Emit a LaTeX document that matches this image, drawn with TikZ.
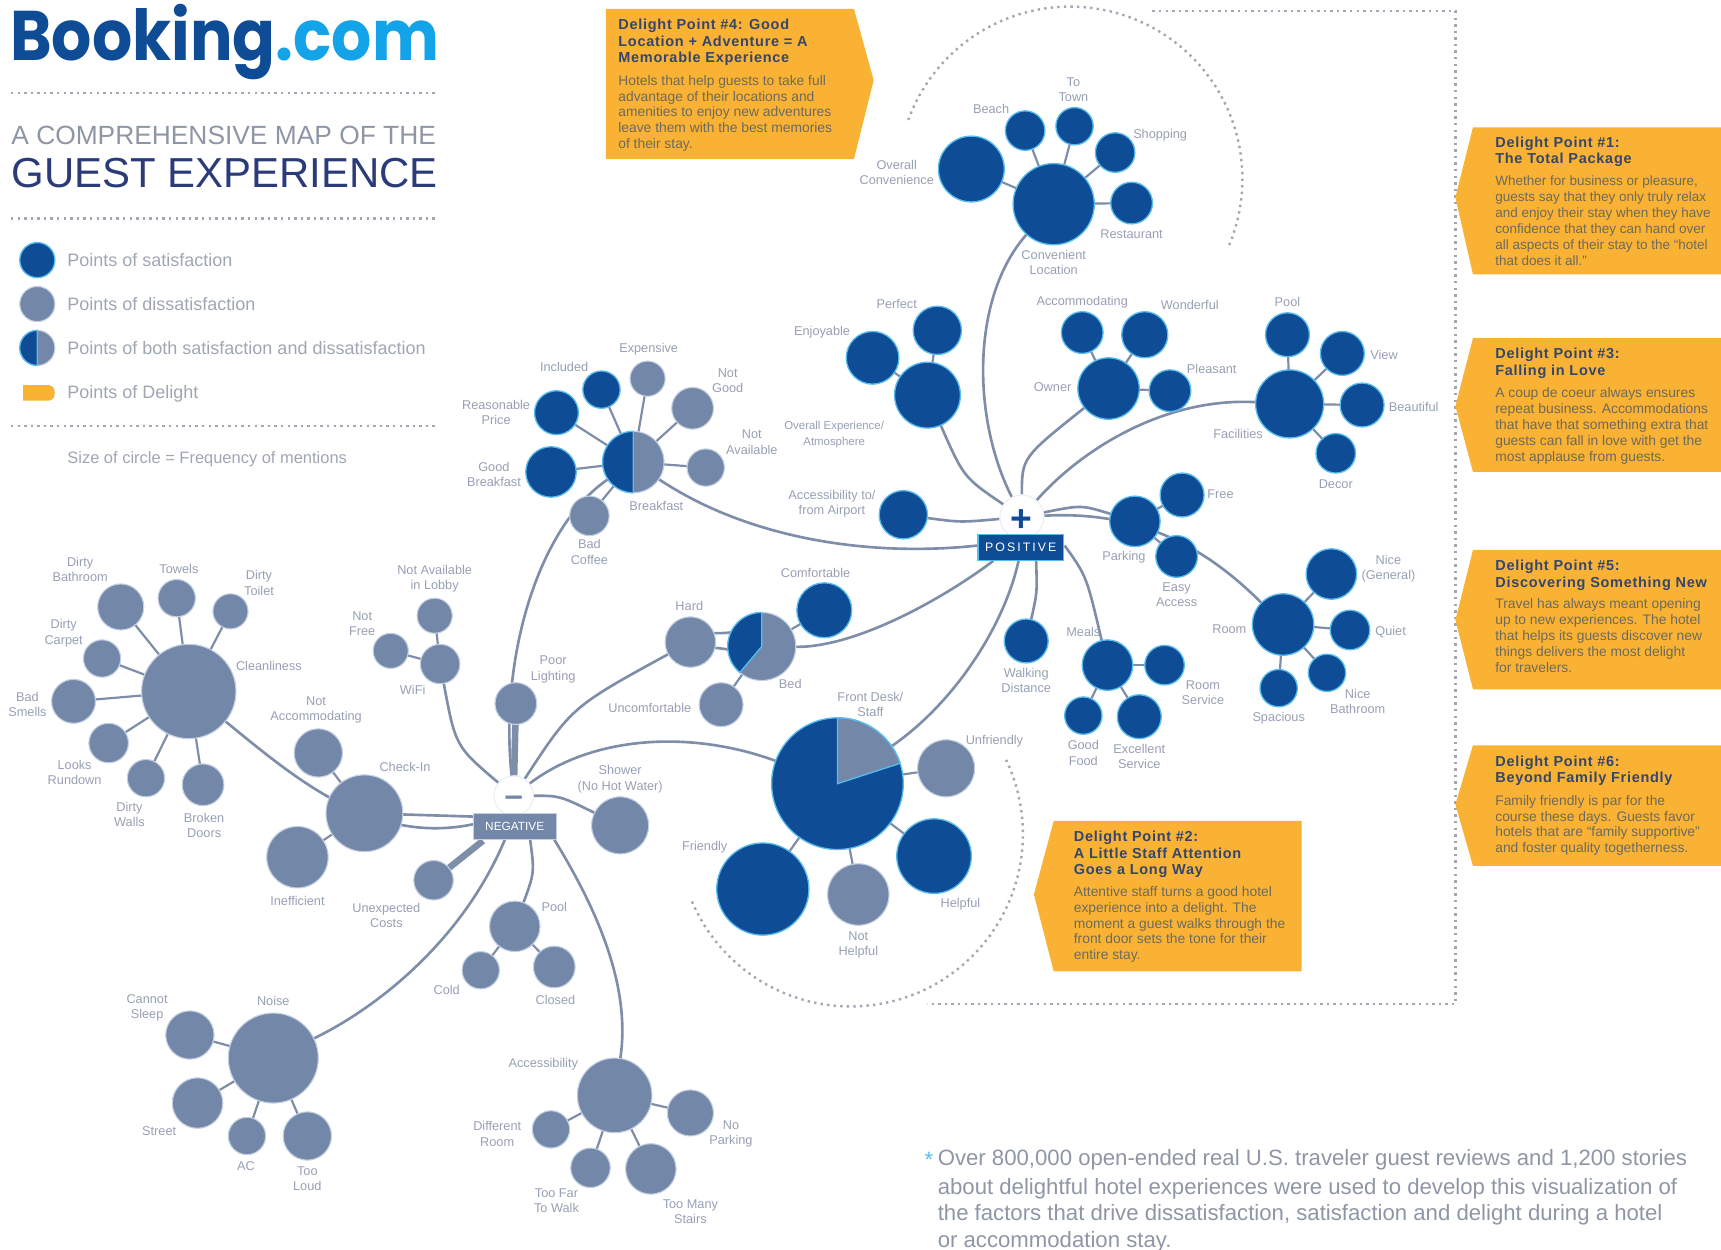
\documentclass[tikz,border=0pt]{standalone}
\usepackage{fontspec}
\usepackage{graphicx}
\setmainfont{Liberation Sans}
\newfontfamily\logofont{Poppins}
\newfontfamily\dtfont[LetterSpace=5]{Liberation Sans}
\usetikzlibrary{backgrounds}
\definecolor{satblue}{HTML}{0E4C96}
\definecolor{halo}{HTML}{58BDEE}
\definecolor{logoc}{HTML}{12A3E8}
\definecolor{disgray}{HTML}{7387A8}
\definecolor{dishalo}{HTML}{C3CFE2}
\definecolor{edgec}{HTML}{7F8EA8}
\definecolor{labc}{HTML}{979FB4}
\definecolor{orangeb}{HTML}{F9B233}
\definecolor{dott}{HTML}{A4A7B2}
\definecolor{dtitle}{HTML}{34466E}
\definecolor{dbody}{HTML}{6D6A5E}
\definecolor{greyt}{HTML}{8E96A6}
\definecolor{navyt}{HTML}{2A3B78}
\tikzset{
 satc/.style={circle,fill=satblue,draw=halo,line width=0.6pt,inner sep=0pt,outer sep=0pt},
 disc/.style={circle,fill=disgray,draw=dishalo,line width=0.5pt,inner sep=0pt,outer sep=0pt},
 lbl/.style={text=labc,align=center,inner sep=0pt,font=\fontsize{5.8}{7}\selectfont},
 edge/.style={draw=edgec,line width=1.2pt},
 thick edge/.style={draw=edgec,line width=3pt},
 leaf/.style={draw=edgec,line width=1pt},
 dots/.style={draw=dott,line width=1.1pt,dash pattern=on 1.1pt off 1.9pt},
 dbox/.style={fill=orangeb,draw=none},
 dtit/.style={anchor=north west,align=left,inner sep=0pt,text=dtitle,font=\dtfont\fontsize{6.6}{7.5}\selectfont\bfseries},
 dbod/.style={anchor=north west,align=left,inner sep=0pt,text=dbody,font=\fontsize{6.3}{7.25}\selectfont},
 leg/.style={anchor=west,inner sep=0pt,text=greyt!85,font=\fontsize{8.2}{10}\selectfont},
 foot/.style={anchor=west,inner sep=0pt,text=greyt,font=\fontsize{10.1}{12}\selectfont},
}
\newcommand\CS[4]{\node[satc,minimum size=#4pt] (#1) at (#2,#3) {};}
\newcommand\CD[4]{\node[disc,minimum size=#4pt] (#1) at (#2,#3) {};}
\newcommand\LB[4]{\node[lbl] (#1) at (#2,#3) {#4};}
\newcommand\WEDGE[7]{\path[fill=#6,draw=#7,line width=0.6pt] (#1,#2) -- plot[domain=#4:#5,samples=40] ({#1+#3*cos(\x)},{#2-#3*sin(\x)}) -- cycle;}
\begin{document}
\begin{tikzpicture}[x=0.5pt,y=-0.5pt]
\useasboundingbox (0,0) rectangle (1568,1138);

% header
\node[anchor=west,inner sep=0pt,font=\logofont\bfseries\fontsize{32}{32}\selectfont] (logo) at (9,38) {\scalebox{0.9}[1]{\textcolor{satblue}{Booking}\textcolor{logoc}{.com}}};
\draw[dots] (10,85) -- (397,85);
\node[anchor=west,inner sep=0pt,text=greyt,font=\fontsize{12}{14}\selectfont] (t1) at (10,123) {A COMPREHENSIVE MAP OF THE};
\node[anchor=west,inner sep=0pt,text=navyt,font=\fontsize{19.1}{22}\selectfont] (t2) at (10,158) {GUEST EXPERIENCE};
\draw[dots] (10,199) -- (397,199);
\CS{lg1}{34}{237}{16}
\CD{lg2}{34}{277}{16}
\CD{lg3}{34}{317}{16}
\WEDGE{34}{317}{16}{90}{270}{satblue}{halo}
\path[fill=orangeb] (21,351) -- (45,351) .. controls (49,352) and (50,355) .. (50,358) .. controls (50,361) and (49,364) .. (45,365) -- (21,365) -- cycle;
\node[leg] (lt1) at (61,237) {Points of satisfaction};
\node[leg] (lt2) at (61,277) {Points of dissatisfaction};
\node[leg] (lt3) at (61,317) {Points of both satisfaction and dissatisfaction};
\node[leg] (lt4) at (61,358.5) {Points of Delight};
\draw[dots] (10,388) -- (397,388);
\node[leg,font=\fontsize{7.5}{10}\selectfont] (lt5) at (61,418) {Size of circle = Frequency of mentions};

% dotted frames
\draw[dots] (1050,10) -- (1326,10) -- (1326,915) -- (845,915);
\draw[dots] plot[domain=160:-23,samples=60] ({975+157*cos(\x)},{163-157*sin(\x)});
\draw[dots] plot[domain=203:386,samples=60] ({775+157*cos(\x)},{760-157*sin(\x)});

% delight boxes
\path[dbox] (552,8) -- (778,8) -- (796,73) -- (778,145) -- (552,145) -- cycle;
\path[dbox] (1326,180) -- (1342,116) -- (1568,116) -- (1568,250) -- (1342,250) -- cycle;
\path[dbox] (1326,370) -- (1342,308) -- (1568,308) -- (1568,430) -- (1342,430) -- cycle;
\path[dbox] (1326,565) -- (1342,501) -- (1568,501) -- (1568,628) -- (1342,628) -- cycle;
\path[dbox] (1326,733) -- (1342,679) -- (1568,679) -- (1568,789) -- (1342,789) -- cycle;
\path[dbox] (942,815) -- (960,748) -- (1186,748) -- (1186,885) -- (960,885) -- cycle;

\node[dtit] (d4t) at (563,17) {Delight Point \#4: Good\\Location + Adventure = A\\Memorable Experience};
\node[dbod] (d4b) at (563,68) {Hotels that help guests to take full\\advantage of their locations and\\amenities to enjoy new adventures\\leave them with the best memories\\of their stay.};
\node[dtit] (d1t) at (1362,124) {Delight Point \#1:\\The Total Package};
\node[dbod,font=\fontsize{6.15}{7.25}\selectfont] (d1b) at (1362,160) {Whether for business or pleasure,\\guests say that they only truly relax\\and enjoy their stay when they have\\confidence that they can hand over\\all aspects of their stay to the ``hotel\\that does it all.''};
\node[dtit] (d3t) at (1362,317) {Delight Point \#3:\\Falling in Love};
\node[dbod] (d3b) at (1362,353) {A coup de coeur always ensures\\repeat business. Accommodations\\that have that something extra that\\guests can fall in love with get the\\most applause from guests.};
\node[dtit] (d5t) at (1362,510) {Delight Point \#5:\\Discovering Something New};
\node[dbod] (d5b) at (1362,545) {Travel has always meant opening\\up to new experiences. The hotel\\that helps its guests discover new\\things delivers the most delight\\for travelers.};
\node[dtit] (d6t) at (1362,688) {Delight Point \#6:\\Beyond Family Friendly};
\node[dbod] (d6b) at (1362,724) {Family friendly is par for the\\course these days. Guests favor\\hotels that are ``family supportive''\\and foster quality togetherness.};
\node[dtit] (d2t) at (978,757) {Delight Point \#2:\\A Little Staff Attention\\Goes a Long Way};
\node[dbod] (d2b) at (978,807) {Attentive staff turns a good hotel\\experience into a delight. The\\moment a guest walks through the\\front door sets the tone for their\\entire stay.};

% footnote
\node[foot,text=halo] (fs) at (842,1057) {*};
\node[foot] (f1) at (854,1057) {Over 800,000 open-ended real U.S. traveler guest reviews and 1,200 stories};
\node[foot] (f2) at (854,1083) {about delightful hotel experiences were used to develop this visualization of};
\node[foot] (f3) at (854,1107) {the factors that drive dissatisfaction, satisfaction and delight during a hotel};
\node[foot] (f4) at (854,1131) {or accommodation stay.};

% hubs
\node[circle,fill=white,draw=dishalo!35,line width=0.5pt,minimum size=20pt,inner sep=0pt] (phub) at (931,471) {};
\node[inner sep=0pt,text=satblue,font=\bfseries\fontsize{17}{17}\selectfont] (pplus) at (931,474) {+};
\node[fill=satblue,draw=halo,line width=0.5pt,minimum width=39pt,minimum height=12pt,inner sep=0pt,text=white,font=\fontsize{5.6}{6}\selectfont] (pbox) at (930,499) {P\,O\,S\,I\,T\,I\,V\,E};
\node[circle,fill=white,draw=dishalo!35,line width=0.5pt,minimum size=18pt,inner sep=0pt] (nhub) at (468,725) {};
\node[inner sep=0pt,text=disgray,font=\bfseries\fontsize{15}{15}\selectfont] (nminus) at (468,730) {–};
\node[fill=disgray,draw=dishalo,line width=0.5pt,minimum width=38pt,minimum height=12pt,inner sep=0pt,text=white,font=\fontsize{5.4}{6}\selectfont] (nbox) at (469,753) {NEGATIVE};

% positive clusters
\CS{conv}{960}{186}{37}\CS{oconv}{885}{154}{30}\CS{beach}{934}{119}{18}\CS{town}{979}{115}{17}\CS{shop}{1016}{139}{18}\CS{rest}{1031}{185}{19}
\LB{lbeach}{903}{99}{Beach}\LB{ltown}{978}{82}{To\\Town}\LB{lshop}{1057}{123}{Shopping}\LB{loconv}{817}{157}{Overall\\Convenience}\LB{lrest}{1031}{213}{Restaurant}\LB{lconv}{960}{239}{Convenient\\Location}
\CS{oexp}{845}{360}{30}\CS{perf}{854}{301}{22}\CS{enj}{795}{326}{24}
\LB{lperf}{817}{277}{Perfect}\LB{lenj}{749}{303}{Enjoyable}
\node[lbl,font=\fontsize{5.2}{7}\selectfont] (loexp) at (760,396) {Overall Experience/\\Atmosphere};
\CS{owner}{1010}{354}{28}\CS{accom}{986}{303}{19}\CS{wond}{1043}{305}{21}\CS{pleas}{1066}{356}{19}
\LB{laccom}{986}{275}{Accommodating}\LB{lwond}{1084}{278}{Wonderful}\LB{lpleas}{1104}{336}{Pleasant}\LB{lowner}{959}{353}{Owner}
\CS{fac}{1175}{368}{31}\CS{ppool}{1173}{305}{20}\CS{view}{1223}{322}{20}\CS{beau}{1241}{369}{20}\CS{decor}{1217}{413}{18}
\LB{lppool}{1173}{275}{Pool}\LB{lview}{1261}{323}{View}\LB{lbeau}{1288}{371}{Beautiful}\LB{ldecor}{1217}{441}{Decor}\LB{lfac}{1128}{395}{Facilities}
\CS{acc}{823}{469}{22}\LB{lacc}{758}{459}{Accessibility to/\\from Airport}
\CS{park}{1034}{475}{23}\CS{free}{1077}{451}{20}\CS{easy}{1072}{507}{19}
\LB{lpark}{1024}{508}{Parking}\LB{lfree}{1112}{450}{Free}\LB{leasy}{1072}{542}{Easy\\Access}
\CS{room}{1169}{569}{28}\CS{nice}{1213}{523}{23}\CS{quiet}{1230}{574}{18}\CS{nbath}{1209}{613}{17}\CS{spac}{1165}{627}{17}
\LB{lroom}{1120}{573}{Room}\LB{lnice}{1265}{518}{Nice\\(General)}\LB{lquiet}{1267}{576}{Quiet}\LB{lnbath}{1237}{639}{Nice\\Bathroom}\LB{lspac}{1165}{654}{Spacious}
\CS{walk}{935}{584}{20}\LB{lwalk}{935}{620}{Walking\\Distance}
\CS{meals}{1009}{606}{23}\CS{rserv}{1061}{606}{18}\CS{exc}{1038}{653}{20}\CS{food}{987}{652}{17}
\LB{lmeals}{987}{576}{Meals}\LB{lrserv}{1096}{631}{Room\\Service}\LB{lexc}{1038}{689}{Excellent\\Service}\LB{lfood}{987}{686}{Good\\Food}

% front desk
\CS{front}{763}{714}{60}
\WEDGE{763}{714}{60}{18}{90}{disgray}{halo}
\CS{friend}{695}{810}{42}\CS{help}{851}{780}{34}\CD{nhelp}{782}{815}{28}\CD{unfr}{862}{700}{26}
\LB{lfront}{793}{642}{Front Desk/\\Staff}\LB{lunfr}{906}{675}{Unfriendly}\LB{lfriend}{642}{772}{Friendly}\LB{lhelp}{875}{824}{Helpful}\LB{lnhelp}{782}{861}{Not\\Helpful}

% bed
\CD{bed}{694}{589}{31}
\WEDGE{694}{589}{31}{90}{230}{satblue}{halo}
\CS{comf}{751}{556}{25}\CD{hard}{629}{585}{23}\CD{unc}{657}{642}{20}
\LB{lcomf}{743}{522}{Comfortable}\LB{lhard}{628}{552}{Hard}\LB{lunc}{592}{645}{Uncomfortable}\LB{lbed}{720}{623}{Bed}

% breakfast
\CD{bkf}{577}{421}{28}
\WEDGE{577}{421}{28}{90}{270}{satblue}{halo}
\CS{reas}{507}{376}{20}\CS{incl}{548}{355}{17}\CD{exp}{590}{345}{16}\CD{ngood}{631}{372}{19}\CD{nav}{643}{426}{17}\CS{gbk}{502}{430}{23}\CD{bcof}{537}{470}{18}
\LB{lincl}{514}{334}{Included}\LB{lexp}{591}{318}{Expensive}\LB{lngood}{663}{347}{Not\\Good}\LB{lnav}{685}{403}{Not\\Available}\LB{lreas}{452}{376}{Reasonable\\Price}\LB{lgbk}{450}{432}{Good\\Breakfast}\LB{lbkf}{598}{461}{Breakfast}\LB{lbcof}{537}{503}{Bad\\Coffee}

% negative clusters
\CD{clean}{172}{630}{43}\CD{dbath}{110}{553}{21}\CD{tow}{161}{545}{17}\CD{dtoil}{210}{557}{16}\CD{dcarp}{93}{600}{17}\CD{bsm}{67}{639}{20}\CD{lrun}{99}{677}{18}\CD{dwal}{133}{709}{17}\CD{bdoor}{185}{715}{19}
\LB{ldbath}{73}{519}{Dirty\\Bathroom}\LB{ltow}{163}{518}{Towels}\LB{ldtoil}{236}{531}{Dirty\\Toilet}\LB{ldcarp}{58}{577}{Dirty\\Carpet}\LB{lbsm}{25}{642}{Bad\\Smells}\LB{llrun}{68}{704}{Looks\\Rundown}\LB{ldwal}{118}{742}{Dirty\\Walls}\LB{lbdoor}{186}{752}{Broken\\Doors}\LB{lclean}{245}{607}{Cleanliness}
\CD{chk}{332}{741}{35}\CD{nacc}{290}{686}{22}\CD{ineff}{271}{781}{28}
\LB{lnacc}{288}{647}{Not\\Accommodating}\LB{lchk}{369}{699}{Check-In}\LB{lineff}{271}{821}{Inefficient}
\CD{unex}{395}{802}{18}\LB{lunex}{352}{834}{Unexpected\\Costs}
\CD{wifi}{401}{605}{18}\CD{nlob}{396}{561}{16}\CD{nfree}{356}{593}{16}
\LB{lnlob}{396}{527}{Not Available\\in Lobby}\LB{lnfree}{330}{568}{Not\\Free}\LB{lwifi}{376}{629}{WiFi}
\CD{plig}{470}{641}{19}\LB{lplig}{504}{610}{Poor\\Lighting}
\CD{show}{565}{752}{26}\LB{lshow}{565}{710}{Shower\\(No Hot Water)}
\CD{npool}{469}{844}{23}\CD{cold}{438}{884}{17}\CD{clos}{505}{881}{19}
\LB{lnpool}{505}{826}{Pool}\LB{lcold}{407}{902}{Cold}\LB{lclos}{506}{911}{Closed}
\CD{noise}{249}{964}{41}\CD{csl}{173}{943}{22}\CD{stre}{180}{1005}{23}\CD{ac}{225}{1035}{17}\CD{tlou}{280}{1035}{22}
\LB{lnoise}{249}{912}{Noise}\LB{lcsl}{134}{918}{Cannot\\Sleep}\LB{lstre}{145}{1031}{Street}\LB{lac}{224}{1062}{AC}\LB{ltlou}{280}{1074}{Too\\Loud}
\CD{nacs}{560}{998}{34}\CD{droom}{502}{1029}{17}\CD{npark}{629}{1014}{21}\CD{tfar}{538}{1064}{18}\CD{tman}{593}{1065}{23}
\LB{lnacs}{495}{970}{Accessibility}\LB{ldroom}{453}{1033}{Different\\Room}\LB{lnpark}{666}{1033}{No\\Parking}\LB{ltfar}{507}{1094}{Too Far\\To Walk}\LB{ltman}{629}{1104}{Too Many\\Stairs}

% connector free ends at the box edges
\coordinate (pw) at (944,511);
\coordinate (pm) at (970,497);
\coordinate (pf) at (928,511);
\coordinate (pb) at (905,511);
\coordinate (pl) at (891,497);
\coordinate (npo) at (483,765);
\coordinate (nac) at (505,765);
\coordinate (nno) at (460,765);
\coordinate (nun) at (440,766);
\coordinate (nc1) at (431,744);
\coordinate (nc2) at (431,751);

\begin{scope}[on background layer]
\foreach \a/\b in {conv/oconv,conv/beach,conv/town,conv/shop,conv/rest,oexp/perf,oexp/enj,owner/accom,owner/wond,owner/pleas,fac/ppool,fac/view,fac/beau,fac/decor,park/free,park/easy,room/nice,room/quiet,room/nbath,room/spac,meals/rserv,meals/exc,meals/food,front/friend,front/help,front/nhelp,front/unfr,bed/comf,bed/unc,bkf/reas,bkf/incl,bkf/exp,bkf/ngood,bkf/nav,bkf/gbk,bkf/bcof,clean/dbath,clean/tow,clean/dtoil,clean/dcarp,clean/bsm,clean/lrun,clean/dwal,clean/bdoor,chk/nacc,chk/ineff,wifi/nlob,wifi/nfree,npool/cold,npool/clos,noise/csl,noise/stre,noise/ac,noise/tlou,nacs/droom,nacs/npark,nacs/tfar,nacs/tman}
  {\draw[leaf] (\a) -- (\b);}
\draw[edge] (hard) .. controls (650,577) and (670,577) .. (bed);
\draw[edge] (hard) .. controls (650,590) and (670,592) .. (bed);
% positive
\draw[edge] (phub) .. controls (885,380) and (885,270) .. (conv);
\draw[edge] (phub) .. controls (878,435) .. (oexp);
\draw[edge] (phub) .. controls (931,417) .. (owner);
\draw[edge] (phub) .. controls (985,410) and (1060,362) .. (fac);
\draw[edge] (phub) .. controls (875,476) .. (acc);
\draw[edge] (pl) .. controls (790,508) and (680,490) .. (bkf);
\draw[edge] (phub) .. controls (985,460) .. (park);
\draw[edge] (phub) .. controls (1040,465) and (1100,500) .. (room);
\draw[edge] (pb) .. controls (860,545) and (780,590) .. (bed);
\draw[edge] (pf) .. controls (915,570) and (870,640) .. (front);
\draw[edge] (pw) .. controls (945,540) .. (walk);
\draw[edge] (pm) .. controls (990,525) .. (meals);
% negative
\draw[edge] (nhub) .. controls (455,600) and (490,480) .. (bkf);
\draw[thick edge] (nhub) -- (plig);
\draw[edge] (nhub) .. controls (521,644) .. (hard);
\draw[edge] (nhub) .. controls (540,670) and (630,665) .. (front);
\draw[edge] (nhub) .. controls (510,725) .. (show);
\draw[edge] (nhub) .. controls (415,680) .. (wifi);
\draw[edge] (npo) .. controls (487,795) .. (npool);
\draw[edge] (nac) .. controls (545,830) and (575,900) .. (nacs);
\draw[edge] (nno) .. controls (420,860) and (340,920) .. (noise);
\draw[thick edge] (nun) -- (unex);
\draw[edge] (nc1) -- (chk);
\draw[edge] (nc2) .. controls (340,770) and (270,710) .. (clean);
\end{scope}
\end{tikzpicture}
\end{document}
